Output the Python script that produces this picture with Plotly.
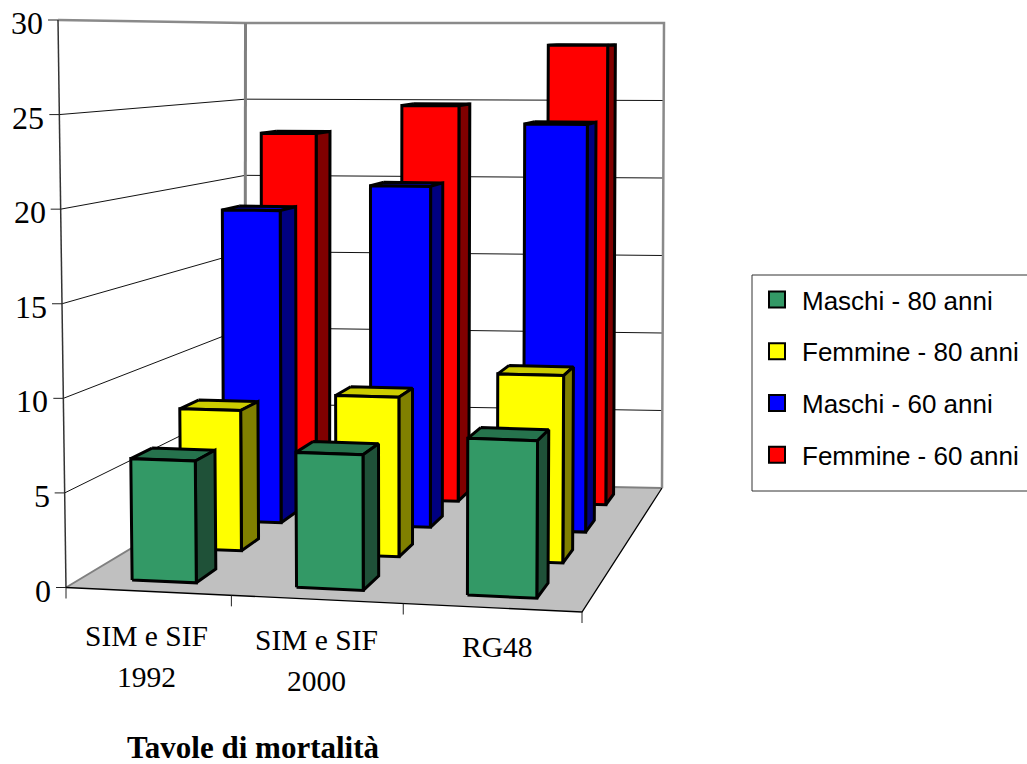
import plotly.graph_objects as go

# ---- data ----
categories = [["SIM e SIF", "1992"], ["SIM e SIF", "2000"], ["RG48"]]
series_names = ["Maschi - 80 anni", "Femmine - 80 anni", "Maschi - 60 anni", "Femmine - 60 anni"]
maschi_80 = [6.5, 7.15, 8.2]
femmine_80 = [7.95, 8.95, 10.4]
maschi_60 = [18.7, 20.25, 24.0]
femmine_60 = [23.0, 24.8, 28.6]
value_ticks = [0, 5, 10, 15, 20, 25, 30]
axis_title = "Tavole di mortalità"

# ---- styles ----
series_values = [maschi_80, femmine_80, maschi_60, femmine_60]
front_cols = ["#339966", "#FFFF00", "#0000FF", "#FF0000"]
side_cols = ["#1F5138", "#808000", "#000080", "#800000"]
top_cols = ["#26734D", "#CCCC00", "#0000CC", "#CC0000"]

# ---- the view of the 3D box: where its eight corners land on the 2D axes ----
FLOOR = dict(fl=(66, 587.5), fr=(582, 612), br=(662, 488), bl=(245, 480))
CEIL = dict(fl=(58, 20), fr=(586, 22), br=(664, 23), bl=(245.5, 23))
XK, DK = 1.06, 0.78     # foreshortening along the categories and along the depth
VMAX = 30.0


def warp(u, k):
    return u / (u + (1 - u) * k)


def bil(q, a, b):
    f = [q["fl"][i] + (q["fr"][i] - q["fl"][i]) * a for i in (0, 1)]
    g = [q["bl"][i] + (q["br"][i] - q["bl"][i]) * a for i in (0, 1)]
    return [f[i] + (g[i] - f[i]) * b for i in (0, 1)]


def project(cat, depth, value):
    """cat in 0..3, depth in 0..1 (front to back), value in 0..30"""
    a, b = warp(cat / 3, XK), warp(depth, DK)
    lo, hi = bil(FLOOR, a, b), bil(CEIL, a, b)
    t = value / VMAX
    return lo[0] + (hi[0] - lo[0]) * t, lo[1] + (hi[1] - lo[1]) * t


fig = go.Figure()


def poly(points, fill=None, line="black", width=1.0):
    xs, ys = zip(*[project(*p) for p in points])
    fig.add_trace(go.Scatter(
        x=list(xs), y=list(ys), mode="lines", showlegend=False, hoverinfo="skip",
        fill="toself" if fill else "none", fillcolor=fill,
        line=dict(color=line, width=width) if width else dict(width=0),
    ))


# walls and floor
poly([(0, 0, 0), (0, 1, 0), (0, 1, VMAX), (0, 0, VMAX), (0, 0, 0)], fill="white", width=0)
poly([(0, 1, 0), (3, 1, 0), (3, 1, VMAX), (0, 1, VMAX), (0, 1, 0)], fill="white", width=0)
poly([(0, 0, 0), (3, 0, 0), (3, 1, 0), (0, 1, 0), (0, 0, 0)], fill="#C0C0C0", width=0)
for v in value_ticks[1:-1]:
    poly([(0, 0, v), (0, 1, v), (3, 1, v)], line="#111111", width=1.0)
poly([(0, 0, 0), (0, 1, 0), (3, 1, 0)], line="#808080", width=2)
poly([(0, 0, VMAX), (0, 1, VMAX), (3, 1, VMAX), (3, 1, 0)], line="#8A8A8A", width=2.5)
poly([(0, 1, 0), (0, 1, VMAX)], line="#808080", width=3)
poly([(0, 0, 0), (0, 0, VMAX)], line="#333333", width=1.5)
poly([(0, 0, 0), (3, 0, 0), (3, 1, 0)], line="black", width=1.3)

# tick marks
tx, ty = [], []
for v in value_ticks:
    x, y = project(0, 0, v)
    tx += [x - 10, x, None]
    ty += [y, y, None]
for c in range(4):
    x, y = project(c, 0, 0)
    tx += [x, x, None]
    ty += [y, y + 11, None]
fig.add_trace(go.Scatter(x=tx, y=ty, mode="lines", showlegend=False, hoverinfo="skip",
                         line=dict(color="#222222", width=1)))

# bars, back row first, left to right in each row
X0, X1 = 0.31, 0.705
D_HALF = 0.052
BAR_LINE = 3
for s in range(3, -1, -1):
    d0, d1 = 0.125 + 0.25 * s - D_HALF, 0.125 + 0.25 * s + D_HALF
    for c in range(3):
        h = series_values[s][c]
        a, b = c + X0, c + X1
        poly([(a, d1, h), (b, d1, h), (b, d0, h), (a, d0, h), (a, d1, h)], fill=top_cols[s], width=BAR_LINE)
        poly([(b, d0, 0), (b, d1, 0), (b, d1, h), (b, d0, h), (b, d0, 0)], fill=side_cols[s], width=BAR_LINE)
        poly([(a, d0, 0), (b, d0, 0), (b, d0, h), (a, d0, h), (a, d0, 0)], fill=front_cols[s], width=BAR_LINE)

# legend keys
for name, col in zip(series_names, front_cols):
    fig.add_trace(go.Scatter(
        x=[None], y=[None], mode="markers", name=name, legendgroup=name,
        marker=dict(symbol="square", size=16, color=col, line=dict(color="black", width=2)),
    ))

# text
serif = "Liberation Serif"
for v in value_ticks:
    x, y = project(0, 0, v)
    fig.add_annotation(x=x - 13, y=y + 3, text=str(v), xref="x", yref="y", showarrow=False,
                       xanchor="right", yanchor="middle",
                       font=dict(family=serif, size=32, color="black"))
LABEL_DX = [-1, 0, 5]
LABEL_DY = [45, 41, 39]
for c, lines in enumerate(categories):
    x, y = project(c + 0.5, 0, 0)
    for n, line in enumerate(lines):
        fig.add_annotation(x=x + LABEL_DX[c], y=y + LABEL_DY[c] + 41 * n, text=line,
                           xref="x", yref="y", showarrow=False, xanchor="center", yanchor="middle",
                           font=dict(family=serif, size=29.5, color="black"))
fig.add_annotation(x=253, y=747, text=f"<b>{axis_title}</b>", xref="x", yref="y", showarrow=False,
                   xanchor="center", yanchor="middle", font=dict(family=serif, size=31, color="black"))

# legend frame
fig.add_shape(type="rect", xref="x", yref="y", x0=752, x1=1040, y0=275, y1=491,
              line=dict(color="#333333", width=1), fillcolor="white", layer="below")

fig.update_layout(
    width=1027, height=764, margin=dict(l=0, r=0, t=0, b=0),
    paper_bgcolor="white", plot_bgcolor="white", hovermode=False,
    xaxis=dict(range=[0, 1027], visible=False, fixedrange=True),
    yaxis=dict(range=[764, 0], visible=False, fixedrange=True),
    legend=dict(x=752 / 1027, y=1 - 276 / 764, xanchor="left", yanchor="top",
                bgcolor="rgba(0,0,0,0)", borderwidth=0,
                font=dict(family="Liberation Sans", size=26, color="black"),
                tracegroupgap=15, itemwidth=40, traceorder="grouped"),
)
fig.write_html("out.html", post_script="document.body.style.margin='0';", config={"displayModeBar": False})
